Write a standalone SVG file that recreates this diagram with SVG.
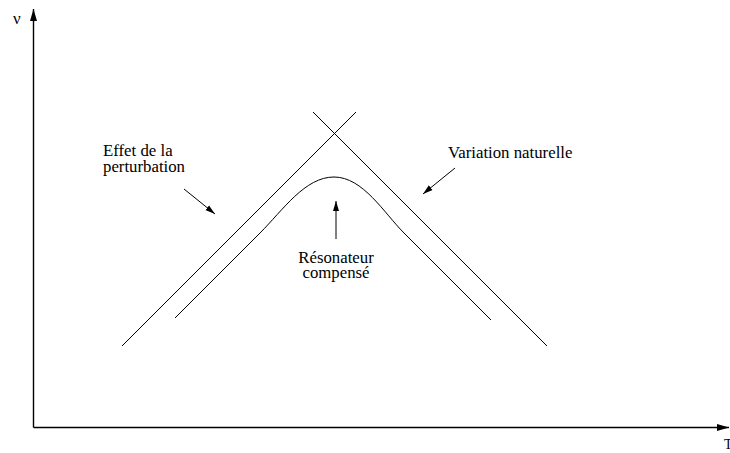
<svg xmlns="http://www.w3.org/2000/svg" width="730" height="453" viewBox="0 0 730 453">
  <style>
    .ln { fill: none; stroke: #000; stroke-width: 1; }
    .ax { fill: none; stroke: #000; stroke-width: 1.4; }
    text { font-family: 'Liberation Serif', 'Times New Roman', serif; fill: #000; }
    .lbl { font-size: 16.8px; }
    .ctr { text-anchor: middle; }
  </style>
  <defs>
    <marker id="axHead" markerUnits="userSpaceOnUse" markerWidth="13" markerHeight="8" refX="12" refY="4" orient="auto">
      <path d="M0,0.5 L12,4 L0,7.5 z" fill="#000"/>
    </marker>
    <marker id="head" markerUnits="userSpaceOnUse" markerWidth="11" markerHeight="7" refX="10" refY="3.5" orient="auto">
      <path d="M0,0.5 L10,3.5 L0,6.5 z" fill="#000"/>
    </marker>
  </defs>

  <g id="axes">
    <line class="ax" x1="33.5" y1="427.5" x2="33.5" y2="9" marker-end="url(#axHead)"/>
    <line class="ax" x1="33.5" y1="427.5" x2="729" y2="427.5" marker-end="url(#axHead)"/>
    <text x="13" y="24" style="font-size:17px">ν</text>
    <text x="724" y="449" style="font-size:14px">T</text>
  </g>

  <g id="curve-perturbation">
    <line class="ln" x1="122" y1="346" x2="356" y2="112"/>
  </g>
  <g id="curve-naturelle">
    <line class="ln" x1="313" y1="112" x2="547" y2="346"/>
  </g>
  <g id="curve-compense">
    <path class="ln" d="M175,318 L260,233 C283,210 305,177 334,177 C363,177 384,213 404,233 L491,320"/>
  </g>

  <g id="label-effet">
    <text class="lbl" x="103" y="156">Effet de la</text>
    <text class="lbl" x="103" y="171.5">perturbation</text>
  </g>
  <g id="label-variation">
    <text class="lbl" x="448" y="158">Variation naturelle</text>
  </g>
  <g id="label-resonateur">
    <text class="lbl ctr" x="336" y="263">Résonateur</text>
    <text class="lbl ctr" x="336" y="277.5">compensé</text>
  </g>

  <g id="connectors">
    <line class="ln" x1="184" y1="189" x2="215" y2="214" marker-end="url(#head)"/>
    <line class="ln" x1="455" y1="168" x2="423" y2="194" marker-end="url(#head)"/>
    <line class="ln" x1="336" y1="239" x2="336" y2="201" marker-end="url(#head)"/>
  </g>
</svg>
